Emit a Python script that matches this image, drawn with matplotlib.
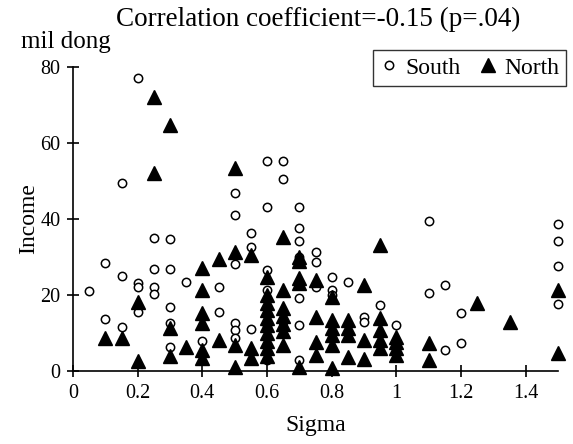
import matplotlib
matplotlib.use("Agg")
import matplotlib.pyplot as plt
from matplotlib.lines import Line2D

plt.rcParams["font.family"] = ["Liberation Serif", "DejaVu Serif"]

# South households: (sigma, income in mil dong)
south_x = [0.05, 0.1, 0.1, 0.15, 0.15, 0.15, 0.2, 0.2, 0.2, 0.2,
           0.25, 0.25, 0.25, 0.25, 0.3, 0.3, 0.3, 0.3, 0.3, 0.35,
           0.4, 0.45, 0.45, 0.5, 0.5, 0.5, 0.5, 0.5, 0.5, 0.55,
           0.55, 0.55, 0.6, 0.6, 0.6, 0.6, 0.6, 0.6, 0.65, 0.65,
           0.65, 0.7, 0.7, 0.7, 0.7, 0.7, 0.7, 0.7, 0.75, 0.75,
           0.75, 0.8, 0.8, 0.8, 0.85, 0.9, 0.9, 0.95, 1.0, 1.1,
           1.1, 1.15, 1.15, 1.2, 1.2, 1.5, 1.5, 1.5, 1.5]
south_y = [21, 28.5, 13.7, 49.5, 25, 11.6, 77, 23.2, 22, 15.5,
           35, 26.8, 22, 20.3, 34.7, 26.8, 16.8, 12.6, 6.3, 23.4,
           7.9, 22.1, 15.5, 46.8, 41, 28.2, 12.6, 10.8, 8.7, 36.3,
           32.6, 11, 55.3, 43.2, 26.6, 21.3, 12.1, 2.9, 55.3, 50.5,
           13, 43.2, 37.6, 34.2, 19.2, 12.1, 2.9, 30, 31.3, 28.7,
           22.1, 24.7, 21.3, 20, 23.4, 14.2, 12.9, 17.4, 12.1, 39.5,
           20.5, 22.6, 5.5, 15.3, 7.4, 38.7, 34.2, 27.6, 17.6]

# North households
north_x = [0.1, 0.15, 0.2, 0.2, 0.25, 0.25, 0.3, 0.3, 0.3, 0.35,
           0.4, 0.4, 0.4, 0.4, 0.4, 0.4, 0.45, 0.45, 0.5, 0.5,
           0.5, 0.5, 0.55, 0.55, 0.55, 0.6, 0.6, 0.6, 0.6, 0.6,
           0.6, 0.6, 0.6, 0.6, 0.6, 0.65, 0.65, 0.65, 0.65, 0.65,
           0.65, 0.65, 0.7, 0.7, 0.7, 0.7, 0.7, 0.75, 0.75, 0.75,
           0.75, 0.8, 0.8, 0.8, 0.8, 0.8, 0.8, 0.85, 0.85, 0.85,
           0.85, 0.9, 0.9, 0.9, 0.95, 0.95, 0.95, 0.95, 0.95, 1.0,
           1.0, 1.0, 1.0, 1.1, 1.1, 1.25, 1.35, 1.5, 1.5]
north_y = [8.7, 8.7, 18.2, 2.6, 72, 52, 64.7, 11.3, 3.9, 6.3,
           27, 21.3, 15.3, 12.6, 5.5, 3.4, 29.5, 8.2, 53.4, 31.3,
           6.8, 1.1, 30.5, 6, 3.4, 24.7, 20, 18, 16, 14,
           12, 10, 8, 6, 4, 35.3, 21.3, 16.6, 14.5, 12.5,
           10.5, 6.8, 30, 29, 24.5, 23.2, 1, 24, 14.2, 7.6,
           4.2, 19.5, 13.4, 11.3, 9.5, 6.8, 0.8, 13.4, 11.3, 9.5,
           3.7, 22.6, 8.2, 3.2, 33.2, 13.9, 10.8, 8.2, 6, 8.9,
           7.6, 6, 4.2, 7.4, 2.9, 17.9, 12.9, 21.3, 4.7]

x_ticks = [0, 0.2, 0.4, 0.6, 0.8, 1.0, 1.2, 1.4]
x_tick_labels = ["0", "0.2", "0.4", "0.6", "0.8", "1", "1.2", "1.4"]
y_ticks = [0, 20, 40, 60, 80]

fig = plt.figure(figsize=(5.73, 4.44), dpi=100)
ax = fig.add_axes([73 / 573, 1 - 371 / 444, (558 - 73) / 573, (371 - 67) / 444])

ax.plot(south_x, south_y, linestyle="none", marker="o", markersize=6,
        markerfacecolor="white", markeredgecolor="black", markeredgewidth=1.1,
        clip_on=False, zorder=3)
ax.plot(north_x, north_y, linestyle="none", marker="^", markersize=9.5,
        color="black", clip_on=False, zorder=4)

ax.set_xlim(0, 1.5)
ax.set_ylim(0, 80)
ax.set_xticks(x_ticks)
ax.set_xticklabels(x_tick_labels)
ax.set_yticks(y_ticks)
ax.tick_params(direction="inout", length=8, width=1.2, labelsize=14.5, pad=5)
ax.spines["left"].set_linewidth(1.2)
ax.spines["bottom"].set_linewidth(1.2)
ax.spines["top"].set_visible(False)
ax.spines["right"].set_visible(False)

ax.set_xlabel("Sigma", fontsize=17, labelpad=9)
ax.set_ylabel("Income", fontsize=17, labelpad=1)
fig.text(0.555, 0.984, "Correlation coefficient=-0.15 (p=.04)",
         ha="center", va="top", fontsize=19.5)
fig.text(0.036, 0.93, "mil dong", ha="left", va="top", fontsize=18)

handles = [
    Line2D([], [], linestyle="none", marker="o", markersize=6,
           markerfacecolor="white", markeredgecolor="black", markeredgewidth=1.1),
    Line2D([], [], linestyle="none", marker="^", markersize=9.5, color="black"),
]
leg = ax.legend(handles, ["South", "North"], loc="upper right", ncol=2,
                bbox_to_anchor=(1.017, 1.056), fontsize=17, frameon=True,
                fancybox=False, edgecolor="black", handlelength=0.7,
                handletextpad=0.35, columnspacing=0.8, borderpad=0.3,
                borderaxespad=0)
leg.get_frame().set_linewidth(1)

fig.savefig("out.png", dpi=100)
